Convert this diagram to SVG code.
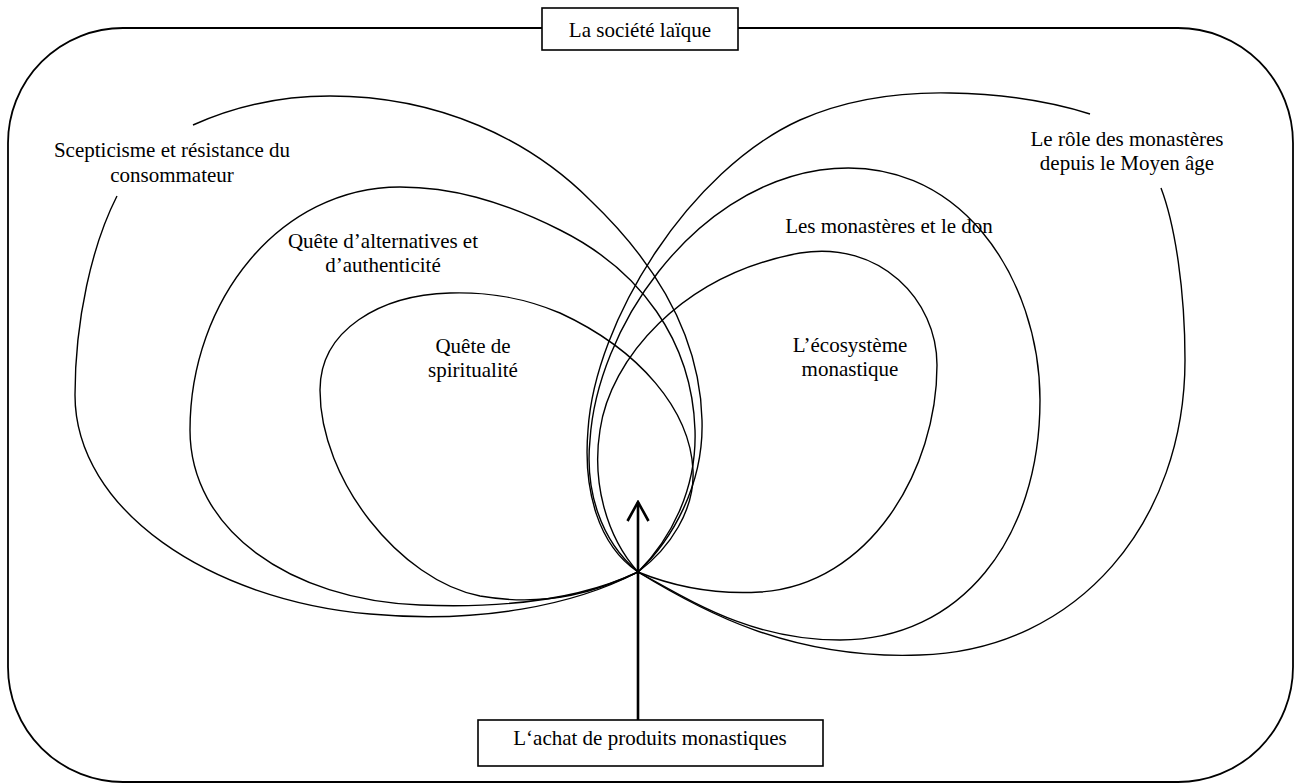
<svg xmlns="http://www.w3.org/2000/svg" width="1298" height="784" viewBox="0 0 1298 784">
<style>
.t{font-family:"Liberation Serif","Times New Roman",serif;font-size:21px;fill:#000;text-anchor:middle}
.loop{fill:none;stroke:#000;stroke-width:1.4}
.box{fill:#fff;stroke:#000;stroke-width:1.6}
.frame{fill:none;stroke:#000;stroke-width:1.8}
.conn{fill:none;stroke:#000;stroke-width:2.6}
</style>
<defs>
<marker id="arr" viewBox="0 0 24 24" refX="22" refY="12" markerWidth="24" markerHeight="24" markerUnits="userSpaceOnUse" orient="auto">
<path d="M3,1.5 L22,12 L3,22.5" fill="none" stroke="#000" stroke-width="2.6"/>
</marker>
</defs>
<rect width="1298" height="784" fill="#fff"/>
<g id="societe-laique">
<rect class="frame" x="8" y="28" width="1285" height="754" rx="115" ry="115"/>
<rect class="box" x="542" y="8" width="196" height="42"/>
<text class="t" x="640" y="37">La société laïque</text>
</g>
<g id="scepticisme">
<path class="loop" d="M193,125 C235,106 280,96 330,96 C440,96 530,140 590,200 C655,262 700,335 702,420 C704,485 672,540 638,572"/>
<path class="loop" d="M117,196 C92,245 75,320 75,395 C75,510 210,600 370,614 C480,624 575,605 638,572"/>
<text class="t" x="172" y="157">Scepticisme et résistance du</text>
<text class="t" x="172" y="182">consommateur</text>
</g>
<g id="alternatives">
<path class="loop" d="M638,572 C670,540 697,490 695,430 C692,340 640,270 560,230 C500,200 450,187 400,187 C280,187 190,300 190,430 C190,530 290,600 420,605 C520,609 590,595 638,572"/>
<text class="t" x="383" y="248">Quête d’alternatives et</text>
<text class="t" x="383" y="272">d’authenticité</text>
</g>
<g id="spiritualite">
<path class="loop" d="M638,572 C670,548 695,510 693,470 C690,410 640,350 560,313 C520,296 485,292 450,293 C380,295 320,330 320,390 C320,480 400,580 480,596 C550,608 600,590 638,572"/>
<text class="t" x="473" y="353">Quête de</text>
<text class="t" x="473" y="377">spiritualité</text>
</g>
<g id="role-monasteres">
<path class="loop" d="M638,572 C598,545 583,490 588,430 C595,320 690,170 800,120 C850,98 900,92 950,93 C1010,94 1055,103 1090,114"/>
<path class="loop" d="M1161,188 C1175,225 1185,290 1185,360 C1185,520 1080,650 920,655 C790,660 700,610 638,572"/>
<text class="t" x="1127" y="146">Le rôle des monastères</text>
<text class="t" x="1127" y="170">depuis le Moyen âge</text>
</g>
<g id="monasteres-don">
<path class="loop" d="M638,572 C600,540 585,490 590,440 C597,330 690,190 820,170 C960,150 1040,280 1040,400 C1040,540 960,640 840,640 C750,640 690,600 638,572"/>
<text class="t" x="889" y="233">Les monastères et le don</text>
</g>
<g id="ecosysteme">
<path class="loop" d="M638,572 C605,535 592,480 600,430 C610,360 680,275 800,253 C880,240 937,300 937,365 C937,470 870,585 760,592 C710,595 670,585 638,572"/>
<text class="t" x="850" y="352">L’écosystème</text>
<text class="t" x="850" y="376">monastique</text>
</g>
<g id="achat">
<rect class="box" x="478" y="720" width="345" height="46"/>
<text class="t" x="650" y="745">L‘achat de produits monastiques</text>
</g>
<g id="connectors">
<path class="conn" d="M638,720 L638,502" marker-end="url(#arr)"/>
</g>
</svg>
